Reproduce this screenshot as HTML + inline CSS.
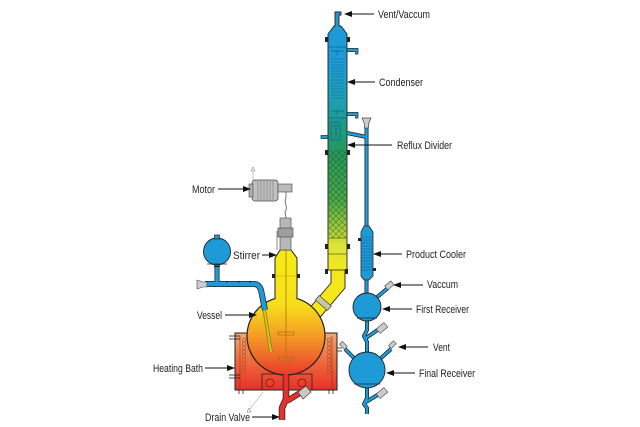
<!DOCTYPE html>
<html><head><meta charset="utf-8"><style>
html,body{margin:0;padding:0;background:#fff;}
svg{display:block;}
text{font-family:"Liberation Sans",Arial,sans-serif;font-size:11px;fill:#222;}
</style></head><body>
<svg width="640" height="427" viewBox="0 0 640 427" xmlns="http://www.w3.org/2000/svg">
<defs>
<linearGradient id="col" x1="0" y1="20" x2="0" y2="285" gradientUnits="userSpaceOnUse">
<stop offset="0" stop-color="#1e9bd7"/>
<stop offset="0.15" stop-color="#1e9bd7"/>
<stop offset="0.30" stop-color="#1ea0b4"/>
<stop offset="0.40" stop-color="#1c9a86"/>
<stop offset="0.51" stop-color="#26985a"/>
<stop offset="0.68" stop-color="#4aa848"/>
<stop offset="0.79" stop-color="#a8cc3a"/>
<stop offset="0.85" stop-color="#dde43a"/>
<stop offset="0.94" stop-color="#f2e81e"/>
<stop offset="1" stop-color="#f4e81c"/></linearGradient>
<linearGradient id="ves" x1="0" y1="250" x2="0" y2="378" gradientUnits="userSpaceOnUse">
<stop offset="0" stop-color="#f6ec16"/><stop offset="0.42" stop-color="#f7e018"/>
<stop offset="0.64" stop-color="#f5a524"/><stop offset="0.84" stop-color="#ee662b"/>
<stop offset="1" stop-color="#e6332a"/></linearGradient>
<linearGradient id="bath" x1="0" y1="333" x2="0" y2="390" gradientUnits="userSpaceOnUse">
<stop offset="0" stop-color="#f2a872"/><stop offset="0.5" stop-color="#ee6a3c"/>
<stop offset="1" stop-color="#e6302a"/></linearGradient>
<pattern id="hatch" width="6" height="6" patternUnits="userSpaceOnUse">
<path d="M0,0 L6,6 M6,0 L0,6" stroke="#174a22" stroke-width="0.6" opacity="0.6"/></pattern>
</defs>

<!-- Heating bath -->
<rect x="235" y="333" width="102" height="57" fill="url(#bath)" stroke="#222" stroke-width="1"/>
<line x1="240" y1="336" x2="240" y2="390" stroke="#7a2a10" stroke-width="0.5"/>
<line x1="332" y1="336" x2="332" y2="390" stroke="#7a2a10" stroke-width="0.5"/>
<g fill="none" stroke="#b8502a" stroke-width="0.7">
<circle cx="244" cy="340" r="1.8"/><circle cx="244" cy="344" r="1.8"/><circle cx="244" cy="348" r="1.8"/><circle cx="244" cy="352" r="1.8"/><circle cx="244" cy="356" r="1.8"/><circle cx="244" cy="360" r="1.8"/><circle cx="244" cy="364" r="1.8"/><circle cx="244" cy="368" r="1.8"/><circle cx="244" cy="372" r="1.8"/>
<circle cx="329" cy="340" r="1.8"/><circle cx="329" cy="344" r="1.8"/><circle cx="329" cy="348" r="1.8"/><circle cx="329" cy="352" r="1.8"/><circle cx="329" cy="356" r="1.8"/><circle cx="329" cy="360" r="1.8"/><circle cx="329" cy="364" r="1.8"/><circle cx="329" cy="368" r="1.8"/><circle cx="329" cy="372" r="1.8"/>
</g>
<g stroke="#222" stroke-width="0.8">
<line x1="229" y1="336" x2="240" y2="336"/><line x1="229" y1="339" x2="240" y2="339"/>
<line x1="229" y1="375" x2="240" y2="375"/><line x1="229" y1="378" x2="240" y2="378"/>
<line x1="337" y1="348" x2="342" y2="348"/><line x1="337" y1="351" x2="342" y2="351"/>
<line x1="239" y1="390" x2="239" y2="394"/><line x1="243" y1="390" x2="243" y2="394"/>
<line x1="329" y1="390" x2="329" y2="394"/><line x1="333" y1="390" x2="333" y2="394"/>
</g>
<!-- bath bottom compartments -->
<g fill="none" stroke="#222" stroke-width="0.8">
<path d="M262,390 L262,374 L282,374"/><path d="M312,390 L312,374 L291,374"/>
<circle cx="270" cy="383" r="4" stroke="#7a1a10"/><circle cx="302" cy="383" r="4" stroke="#7a1a10"/>
</g>

<!-- Column lower diagonal to vessel -->
<path d="M331,268 L345,268 L345,288 L317.3,320.6 L306.7,311.4 L331,283 Z" fill="url(#col)" stroke="#222" stroke-width="0.9"/>
<polygon points="331.3,306 319.2,295.5 315.3,300 327.4,310.5" fill="#c8c8a0" stroke="#444" stroke-width="0.7"/>

<!-- Vessel neck -->
<path d="M280,250 L291,250 L297,258 L297,302 L275,302 L275,258 Z" fill="url(#ves)" stroke="#222" stroke-width="1"/>
<!-- Vessel sphere -->
<circle cx="286" cy="336" r="39" fill="url(#ves)" stroke="#222" stroke-width="1.2"/>
<rect x="275.6" y="294" width="20.8" height="10" fill="url(#ves)"/>
<g fill="#222"><rect x="272" y="274" width="3" height="4"/><rect x="297" y="274" width="3" height="4"/></g>
<line x1="275" y1="276" x2="297" y2="276" stroke="#b89a10" stroke-width="0.6"/>
<!-- stirrer shaft & paddles -->
<line x1="286" y1="250" x2="286" y2="358" stroke="#b07010" stroke-width="0.8"/>
<g fill="none" stroke="#b07010" stroke-width="0.8">
<path d="M278,332 L294,332 L294,335 L278,335 Z"/><path d="M278,357 L294,357 L292,361 L280,361 Z"/>
</g>
<!-- inner tube -->
<line x1="264" y1="308" x2="271" y2="352" stroke="#8a7a10" stroke-width="3.5"/>
<line x1="264" y1="308" x2="271" y2="352" stroke="#d6c420" stroke-width="2"/>

<!-- Drain -->
<g fill="none" stroke-linejoin="round">
<path d="M286,374 L286,399 L282,408 L282,420" stroke="#222" stroke-width="6.5"/>
<path d="M287,401 L300,393" stroke="#222" stroke-width="6"/>
<path d="M286,374 L286,399 L282,408 L282,420" stroke="#e4322a" stroke-width="5"/>
<path d="M287,401 L300,393" stroke="#e4322a" stroke-width="4.5"/>
</g>
<polygon points="298,392 306,386 311,392 303,399" fill="#c8c8c8" stroke="#444" stroke-width="0.7"/>
<line x1="263" y1="392" x2="250" y2="409" stroke="#888" stroke-width="0.5"/>
<polygon points="249,408 247,412 251,412" fill="none" stroke="#666" stroke-width="0.5"/>

<!-- Column main body -->
<path d="M328,270 L328,34 L334,26 L335,26 L335,12 L341,12 L341,15 L339,15 L339,26 L341,26 L347,34 L347,270 Z" fill="url(#col)" stroke="#222" stroke-width="0.9"/>
<rect x="329" y="150" width="17" height="88" fill="url(#hatch)"/>
<g stroke="#1670a8" stroke-width="0.6">
<line x1="331" y1="59" x2="344" y2="59"/><line x1="331" y1="62" x2="344" y2="62"/><line x1="331" y1="65" x2="344" y2="65"/><line x1="331" y1="68" x2="344" y2="68"/><line x1="331" y1="71" x2="344" y2="71"/><line x1="331" y1="74" x2="344" y2="74"/><line x1="331" y1="77" x2="344" y2="77"/><line x1="331" y1="80" x2="344" y2="80"/><line x1="331" y1="83" x2="344" y2="83"/><line x1="331" y1="86" x2="344" y2="86"/><line x1="331" y1="89" x2="344" y2="89"/><line x1="331" y1="92" x2="344" y2="92"/><line x1="331" y1="95" x2="344" y2="95"/><line x1="331" y1="98" x2="344" y2="98"/>
</g>
<g fill="none" stroke="#14608f" stroke-width="0.7">
<line x1="328" y1="47" x2="347" y2="47"/><path d="M331,51 L344,51 M337,51 L337,55"/>
<path d="M331,111 L344,111 M337,111 L337,115"/><line x1="328" y1="118" x2="347" y2="118"/>
<rect x="331" y="122" width="9" height="18"/><circle cx="336" cy="127" r="2"/><line x1="336" y1="129" x2="336" y2="138"/>
</g>
<g stroke="#5a6a10" stroke-width="0.7"><line x1="328" y1="238" x2="347" y2="238"/><line x1="328" y1="254" x2="347" y2="254"/><line x1="328" y1="270" x2="347" y2="270"/></g>
<g fill="#222">
<rect x="325" y="37" width="3" height="5"/><rect x="347" y="37" width="3" height="5"/>
<rect x="325" y="150" width="3" height="5"/><rect x="347" y="150" width="3" height="5"/>
<rect x="325" y="244" width="3" height="5"/><rect x="347" y="244" width="3" height="5"/>
<rect x="325" y="269" width="3" height="5"/><rect x="345" y="269" width="3" height="5"/>
</g>
<!-- right stubs -->
<g fill="#1e9bd7" stroke="#222" stroke-width="0.7">
<path d="M347,48.5 L358,48.5 L358,54 L355.5,54 L355.5,51.5 L347,51.5 Z"/>
<path d="M347,112.5 L358,112.5 L358,118 L355.5,118 L355.5,115.5 L347,115.5 Z"/>
<rect x="321" y="135.5" width="7" height="3"/>
</g>

<!-- Product line -->
<g fill="none" stroke-linecap="butt">
<path d="M347,133 L366.5,137" stroke="#222" stroke-width="4"/>
<line x1="366.5" y1="127" x2="366.5" y2="232" stroke="#222" stroke-width="4"/>
<line x1="366.5" y1="276" x2="366.5" y2="296" stroke="#222" stroke-width="4"/>
<path d="M347,133 L366.5,137" stroke="#1e9bd7" stroke-width="2.5"/>
<line x1="366.5" y1="127" x2="366.5" y2="232" stroke="#1e9bd7" stroke-width="2.5"/>
<line x1="366.5" y1="276" x2="366.5" y2="296" stroke="#1e9bd7" stroke-width="2.5"/>
</g>
<polygon points="362,118 371,118 368.5,124 368.5,128 364.5,128 364.5,124" fill="#ccc" stroke="#444" stroke-width="0.7"/>
<!-- Product cooler -->
<path d="M364,226 L369,226 L373,232 L373,276 L369,280 L364,280 L361,276 L361,232 Z" fill="#1e9bd7" stroke="#222" stroke-width="0.8"/>
<g stroke="#14608f" stroke-width="0.6">
<line x1="362" y1="237" x2="372" y2="237"/><line x1="362" y1="240" x2="372" y2="240"/><line x1="362" y1="243" x2="372" y2="243"/><line x1="362" y1="246" x2="372" y2="246"/><line x1="362" y1="249" x2="372" y2="249"/><line x1="362" y1="252" x2="372" y2="252"/><line x1="362" y1="255" x2="372" y2="255"/><line x1="362" y1="258" x2="372" y2="258"/><line x1="362" y1="261" x2="372" y2="261"/><line x1="362" y1="264" x2="372" y2="264"/><line x1="362" y1="267" x2="372" y2="267"/><line x1="362" y1="270" x2="372" y2="270"/>
</g>
<g fill="#222"><rect x="358" y="238" width="3" height="3"/><rect x="373" y="268" width="3" height="3"/></g>

<!-- receivers pipes -->
<g fill="none" stroke-linejoin="round">
<path d="M376,298 L388,288" stroke="#222" stroke-width="4"/>
<path d="M367,318 L367,330 L364,336 L367,342 L367,356" stroke="#222" stroke-width="4"/>
<path d="M366,338 L379,329" stroke="#222" stroke-width="4"/>
<path d="M355,359 L345,349 M380,359 L391,349" stroke="#222" stroke-width="4"/>
<path d="M367,386 L367,398 L364,404 L367,408 L367,414" stroke="#222" stroke-width="4"/>
<path d="M366,402 L379,394" stroke="#222" stroke-width="4"/>
<path d="M376,298 L388,288" stroke="#1e9bd7" stroke-width="2.5"/>
<path d="M367,318 L367,330 L364,336 L367,342 L367,356" stroke="#1e9bd7" stroke-width="2.5"/>
<path d="M366,338 L379,329" stroke="#1e9bd7" stroke-width="2.5"/>
<path d="M355,359 L345,349 M380,359 L391,349" stroke="#1e9bd7" stroke-width="2.5"/>
<path d="M367,386 L367,398 L364,404 L367,408 L367,414" stroke="#1e9bd7" stroke-width="2.5"/>
<path d="M366,402 L379,394" stroke="#1e9bd7" stroke-width="2.5"/>
</g>
<circle cx="367" cy="307" r="14" fill="#1e9bd7" stroke="#222" stroke-width="0.9"/>
<line x1="357" y1="318" x2="377" y2="318" stroke="#222" stroke-width="0.8"/>
<circle cx="367" cy="370" r="18" fill="#1e9bd7" stroke="#222" stroke-width="0.9"/>
<line x1="354" y1="384" x2="380" y2="384" stroke="#222" stroke-width="0.8"/>
<g fill="#ccc" stroke="#444" stroke-width="0.6">
<rect x="385" y="283" width="8" height="5" transform="rotate(-40 389 285)"/>
<rect x="377" y="325" width="10" height="6" transform="rotate(-40 382 328)"/>
<rect x="340" y="343" width="7" height="4" transform="rotate(45 343 345)"/>
<rect x="389" y="343" width="7" height="4" transform="rotate(-45 392 345)"/>
<rect x="377" y="390" width="10" height="6" transform="rotate(-40 382 393)"/>
</g>

<!-- Left small sphere and pipe -->
<g fill="none" stroke-linejoin="round">
<line x1="217" y1="262" x2="217" y2="284" stroke="#222" stroke-width="5"/>
<path d="M205,284 L254,284 Q259,284 261,290 L265,310" stroke="#222" stroke-width="6"/>
<line x1="217" y1="262" x2="217" y2="284" stroke="#1e9bd7" stroke-width="3.5"/>
<path d="M205,284 L254,284 Q259,284 261,290 L265,310" stroke="#1e9bd7" stroke-width="4.5"/>
</g>
<g fill="#222"><rect x="226" y="281" width="1.5" height="1.5"/><rect x="238" y="281" width="1.5" height="1.5"/><rect x="249" y="281" width="1.5" height="1.5"/><rect x="214" y="266" width="6" height="1"/></g>
<circle cx="217" cy="251.5" r="13.5" fill="#1e9bd7" stroke="#222" stroke-width="0.9"/>
<rect x="214.5" y="235" width="5" height="4" fill="#1e9bd7" stroke="#222" stroke-width="0.7"/>
<line x1="207" y1="264" x2="227" y2="264" stroke="#222" stroke-width="0.7"/>
<polygon points="197,280 203,282 207,282 207,287 203,287 197,289" fill="#ccc" stroke="#444" stroke-width="0.6"/>

<!-- Stirrer housing and motor -->
<rect x="280" y="218" width="11" height="32" fill="#b8b8b8" stroke="#555" stroke-width="0.7"/>
<rect x="278" y="228" width="15" height="9" fill="#9e9e9e" stroke="#555" stroke-width="0.7"/>
<line x1="277" y1="231" x2="277" y2="250" stroke="#555" stroke-width="0.7"/>
<path d="M286,192 L286,198 C283,203 289,207 285,212 L286,218" fill="none" stroke="#666" stroke-width="0.9"/>
<rect x="252" y="180" width="26" height="21" rx="3" fill="#c0c0c0" stroke="#444" stroke-width="0.7"/>
<rect x="249" y="184" width="4" height="13" fill="#b0b0b0" stroke="#444" stroke-width="0.6"/>
<g stroke="#7a7a7a" stroke-width="0.6">
<line x1="258" y1="181" x2="258" y2="200"/><line x1="261" y1="181" x2="261" y2="200"/><line x1="264" y1="181" x2="264" y2="200"/><line x1="267" y1="181" x2="267" y2="200"/><line x1="270" y1="181" x2="270" y2="200"/><line x1="273" y1="181" x2="273" y2="200"/>
</g>
<rect x="278" y="184" width="14" height="8" fill="#bbb" stroke="#444" stroke-width="0.6"/>
<line x1="253" y1="180" x2="253" y2="172" stroke="#888" stroke-width="0.5"/>
<polygon points="253,167 251,171 255,171" fill="none" stroke="#666" stroke-width="0.5"/>

<!-- Arrows -->
<g stroke="#111" stroke-width="1">
<line x1="374" y1="14" x2="350" y2="14"/><line x1="375" y1="82" x2="353" y2="82"/>
<line x1="392" y1="145" x2="353" y2="145"/><line x1="218" y1="189" x2="245" y2="189"/>
<line x1="262" y1="255" x2="271" y2="255"/><line x1="402" y1="254" x2="379" y2="254"/>
<line x1="423" y1="285" x2="399" y2="285"/><line x1="412" y1="309" x2="388" y2="309"/>
<line x1="225" y1="315" x2="251" y2="315"/><line x1="205" y1="368" x2="229" y2="368"/>
<line x1="428" y1="347" x2="404" y2="347"/><line x1="415" y1="373" x2="392" y2="373"/>
<line x1="252" y1="417" x2="274" y2="417"/>
</g>
<g fill="#111">
<polygon points="344,14 352,11 352,17"/><polygon points="347,82 355,79 355,85"/>
<polygon points="347,145 355,142 355,148"/><polygon points="251,189 243,186 243,192"/>
<polygon points="277,255 269,252 269,258"/><polygon points="373,254 381,251 381,257"/>
<polygon points="393,285 401,282 401,288"/><polygon points="382,309 390,306 390,312"/>
<polygon points="257,315 249,312 249,318"/><polygon points="235,368 227,365 227,371"/>
<polygon points="398,347 406,344 406,350"/><polygon points="386,373 394,370 394,376"/>
<polygon points="280,417 272,414 272,420"/>
</g>

<!-- Labels -->
<text x="378" y="18" textLength="52" lengthAdjust="spacingAndGlyphs">Vent/Vaccum</text>
<text x="379" y="86" textLength="44" lengthAdjust="spacingAndGlyphs">Condenser</text>
<text x="397" y="149" textLength="55" lengthAdjust="spacingAndGlyphs">Reflux Divider</text>
<text x="192" y="193" textLength="23" lengthAdjust="spacingAndGlyphs">Motor</text>
<text x="233" y="259" textLength="27" lengthAdjust="spacingAndGlyphs">Stirrer</text>
<text x="406" y="258" textLength="60" lengthAdjust="spacingAndGlyphs">Product Cooler</text>
<text x="427" y="288" textLength="31" lengthAdjust="spacingAndGlyphs">Vaccum</text>
<text x="416" y="313" textLength="53" lengthAdjust="spacingAndGlyphs">First Receiver</text>
<text x="197" y="319" textLength="25" lengthAdjust="spacingAndGlyphs">Vessel</text>
<text x="153" y="372" textLength="50" lengthAdjust="spacingAndGlyphs">Heating Bath</text>
<text x="433" y="351" textLength="17" lengthAdjust="spacingAndGlyphs">Vent</text>
<text x="419" y="377" textLength="56" lengthAdjust="spacingAndGlyphs">Final Receiver</text>
<text x="205" y="421" textLength="45" lengthAdjust="spacingAndGlyphs">Drain Valve</text>
</svg>
</body></html>
